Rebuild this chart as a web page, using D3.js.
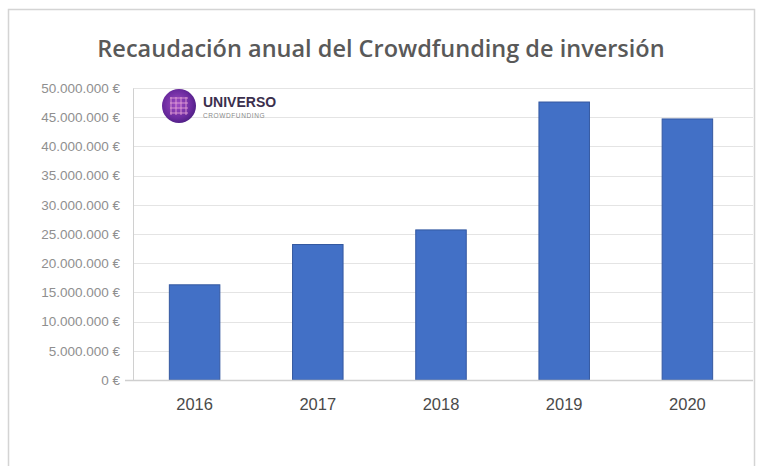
<!DOCTYPE html>
<html>
<head>
<meta charset="utf-8">
<script src="https://cdn.jsdelivr.net/npm/d3@7"></script>
<style>
  html, body { margin: 0; padding: 0; background: #fff; }
  svg { display: block; }
</style>
</head>
<body>
<svg id="chart" width="757" height="466"></svg>
<script>
// Annual investment crowdfunding totals (EUR)
const years = ["2016", "2017", "2018", "2019", "2020"];
const amounts = [16300000, 23200000, 25700000, 47600000, 44700000];
const yTicks = [0, 5000000, 10000000, 15000000, 20000000, 25000000, 30000000, 35000000, 40000000, 45000000, 50000000];
const titleText = "Recaudación anual del Crowdfunding de inversión";

const svg = d3.select("#chart");

// outer frame
svg.append("rect")
  .attr("x", 8.5).attr("y", 9.5).attr("width", 746).attr("height", 470)
  .attr("fill", "#fff").attr("stroke", "#d4d4d4").attr("stroke-width", 1.5);

const plot = { left: 133, right: 749, top: 88, bottom: 380 };

const x = d3.scaleBand()
  .domain(years)
  .range([plot.left, plot.right])
  .paddingInner(0.59)
  .paddingOuter(0.295);

const y = d3.scaleLinear()
  .domain([0, 50000000])
  .range([plot.bottom, plot.top]);

const fmt = v => d3.format(",.0f")(v).replace(/,/g, ".") + " €";

// horizontal gridlines
svg.append("g")
  .selectAll("line")
  .data(yTicks.filter(d => d > 0))
  .join("line")
  .attr("x1", plot.left).attr("x2", 753)
  .attr("y1", d => Math.round(y(d)) + 0.5).attr("y2", d => Math.round(y(d)) + 0.5)
  .attr("stroke", "#e4e4e4").attr("stroke-width", 1);

// y axis
const yAxis = svg.append("g")
  .attr("transform", `translate(${plot.left},0)`)
  .call(d3.axisLeft(y).tickValues(yTicks).tickFormat(fmt).tickSize(0).tickPadding(13));
yAxis.select(".domain").attr("stroke", "#d0d0d0");
yAxis.selectAll("text")
  .attr("fill", "#8f8f8f")
  .style("font-family", "'Liberation Sans', Arial, sans-serif")
  .style("font-size", "13.5px");

// bars
svg.append("g")
  .selectAll("rect")
  .data(years.map((yr, i) => ({ yr, v: amounts[i] })))
  .join("rect")
  .attr("x", d => x(d.yr))
  .attr("width", x.bandwidth())
  .attr("y", d => y(d.v))
  .attr("height", d => y(0) - y(d.v))
  .attr("fill", "#4270c6")
  .attr("stroke", "#3458a0")
  .attr("stroke-width", 1);

// x axis
const xAxis = svg.append("g")
  .attr("transform", `translate(0,${plot.bottom})`)
  .call(d3.axisBottom(x).tickSize(0).tickPadding(18));
xAxis.select(".domain")
  .attr("d", `M${plot.left - 8},0.5H753`)
  .attr("stroke", "#cfcfcf").attr("stroke-width", 1.5);
xAxis.selectAll("text")
  .attr("fill", "#4a4a4a")
  .style("font-family", "'Liberation Sans', Arial, sans-serif")
  .style("font-size", "16.5px");

// title
svg.append("text")
  .attr("x", 381).attr("y", 57)
  .attr("text-anchor", "middle")
  .attr("fill", "#595959")
  .style("font-family", "'Open Sans', sans-serif")
  .style("font-size", "23.5px")
  .style("font-weight", 600)
  .text(titleText);

// brand badge
const defs = svg.append("defs");
const grad = defs.append("radialGradient").attr("id", "globe").attr("cx", "45%").attr("cy", "45%").attr("r", "60%");
grad.append("stop").attr("offset", "0%").attr("stop-color", "#a04bc4");
grad.append("stop").attr("offset", "70%").attr("stop-color", "#6a2a9e");
grad.append("stop").attr("offset", "100%").attr("stop-color", "#4a1d80");

const badge = svg.append("g").attr("transform", "translate(179,106)");
badge.append("circle").attr("r", 17).attr("fill", "url(#globe)");
[-8, -3, 2, 7].forEach(o => {
  badge.append("line").attr("x1", o).attr("x2", o).attr("y1", -9).attr("y2", 9)
    .attr("stroke", "#e9a6d8").attr("stroke-width", 1.2).attr("opacity", 0.7);
  badge.append("line").attr("y1", o).attr("y2", o).attr("x1", -9).attr("x2", 9)
    .attr("stroke", "#e9a6d8").attr("stroke-width", 1.2).attr("opacity", 0.7);
});
svg.append("text")
  .attr("x", 203).attr("y", 107)
  .attr("fill", "#3b2f4d")
  .style("font-family", "'Liberation Sans', Arial, sans-serif")
  .style("font-size", "14px").style("font-weight", 700)
  .text("UNIVERSO");
svg.append("text")
  .attr("x", 203).attr("y", 118)
  .attr("fill", "#8a8a8a")
  .style("font-family", "'Liberation Sans', Arial, sans-serif")
  .style("font-size", "6.5px")
  .style("letter-spacing", "0.6px")
  .text("CROWDFUNDING");
</script>
</body>
</html>
